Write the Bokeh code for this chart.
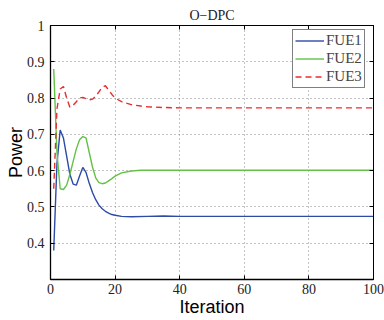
from bokeh.plotting import figure
from bokeh.models import LinearAxis, Range1d, Legend, LegendItem, FixedTicker
from bokeh.embed import file_html
from bokeh.resources import INLINE

# data
it1 = [1, 2, 3, 4, 5, 6, 7, 8, 9, 10, 11, 12, 13, 14, 15, 16, 17, 18, 19, 20, 22, 25, 30, 35, 40, 50, 60, 70, 80, 90, 100]
fue1 = [0.38, 0.62, 0.712, 0.69, 0.64, 0.59, 0.563, 0.56, 0.585, 0.609, 0.595, 0.565, 0.54, 0.52, 0.505, 0.495, 0.488,
        0.483, 0.479, 0.477, 0.474, 0.473, 0.474, 0.475, 0.474, 0.474, 0.474, 0.474, 0.474, 0.474, 0.474]
it2 = [1, 2, 3, 4, 5, 6, 7, 8, 9, 10, 11, 12, 13, 14, 15, 16, 17, 18, 19, 20, 22, 25, 28, 30, 40, 50, 60, 70, 80, 90, 100]
fue2 = [0.88, 0.65, 0.55, 0.548, 0.56, 0.59, 0.625, 0.66, 0.685, 0.694, 0.69, 0.65, 0.61, 0.58, 0.567, 0.564, 0.566,
        0.572, 0.578, 0.585, 0.594, 0.599, 0.601, 0.601, 0.601, 0.601, 0.601, 0.601, 0.601, 0.601, 0.601]
it3 = [1, 2, 3, 4, 5, 6, 7, 8, 9, 10, 11, 12, 13, 14, 15, 16, 17, 18, 19, 20, 22, 25, 28, 30, 35, 40, 50, 60, 70, 80, 90, 100]
fue3 = [0.55, 0.77, 0.825, 0.832, 0.8, 0.775, 0.78, 0.79, 0.8, 0.802, 0.798, 0.795, 0.797, 0.805, 0.817, 0.83, 0.834,
        0.822, 0.81, 0.8, 0.79, 0.782, 0.778, 0.776, 0.774, 0.773, 0.773, 0.773, 0.773, 0.773, 0.773, 0.773]
x_ticks = [0, 20, 40, 60, 80, 100]
y_ticks = [0.4, 0.5, 0.6, 0.7, 0.8, 0.9, 1.0]
y_labels = {0.4: "0.4", 0.5: "0.5", 0.6: "0.6", 0.7: "0.7", 0.8: "0.8", 0.9: "0.9", 1.0: "1"}
series_names = ["FUE1", "FUE2", "FUE3"]
chart_title = "O\u2212DPC"

SERIF = "Liberation Serif"
SANS = "Liberation Sans"

p = figure(width=384, height=320, output_backend="svg", toolbar_location=None,
           x_range=Range1d(0, 100), y_range=Range1d(0.3, 1.0), title=chart_title,
           min_border_left=50, min_border_right=11, min_border_top=25, min_border_bottom=41)
p.title.align = "center"
p.title.text_font = SERIF
p.title.text_font_size = "14px"
p.title.text_font_style = "normal"
p.title.text_color = "#222222"
p.title.standoff = 6
p.outline_line_color = "black"
p.outline_line_width = 1
p.background_fill_color = "white"
p.border_fill_color = "white"

for ax in (p.xaxis[0], p.yaxis[0]):
    ax.major_tick_in = 4
    ax.major_tick_out = 0
    ax.minor_tick_in = 0
    ax.minor_tick_out = 0
    ax.axis_line_color = "black"
    ax.axis_line_width = 1.3
    ax.major_label_text_font = SERIF
    ax.major_label_text_font_size = "14px"
    ax.major_label_text_color = "#222222"
    ax.axis_label_text_font = SANS
    ax.axis_label_text_font_size = "18px"
    ax.axis_label_text_font_style = "normal"
    ax.axis_label_text_color = "black"

p.xaxis[0].ticker = FixedTicker(ticks=x_ticks)
p.yaxis[0].ticker = FixedTicker(ticks=y_ticks)
p.yaxis[0].major_label_overrides = y_labels
p.xaxis[0].axis_label = "Iteration"
p.yaxis[0].axis_label = "Power"
p.xaxis[0].major_label_standoff = 4
p.yaxis[0].major_label_standoff = 6
p.xaxis[0].axis_label_standoff = 0
p.yaxis[0].axis_label_standoff = -2

for loc, tick in (("right", y_ticks), ("above", x_ticks)):
    a = LinearAxis(ticker=FixedTicker(ticks=tick),
                   major_label_overrides={t: "" for t in tick},
                   major_tick_in=4, major_tick_out=0, minor_tick_in=0, minor_tick_out=0,
                   axis_line_color="black", axis_line_width=1.0, major_label_standoff=0)
    p.add_layout(a, loc)

p.xgrid.ticker = FixedTicker(ticks=x_ticks)
p.ygrid.ticker = FixedTicker(ticks=y_ticks)
for g in (p.xgrid, p.ygrid):
    g.grid_line_color = "#888888"
    g.grid_line_dash = "1 3"
    g.grid_line_width = 1

r1 = p.line(it1, fue1, line_color="#2b4ba5", line_width=1.4)
r2 = p.line(it2, fue2, line_color="#63c146", line_width=1.4)
r3 = p.line(it3, fue3, line_color="#e62e2e", line_width=1.4, line_dash="6 4")

legend = Legend(items=[LegendItem(label=series_names[0], renderers=[r1]),
                       LegendItem(label=series_names[1], renderers=[r2]),
                       LegendItem(label=series_names[2], renderers=[r3])],
                location=(242, 191), padding=2, spacing=1, margin=0,
                label_text_font=SERIF, label_text_font_size="15px",
                label_height=17, glyph_height=17, glyph_width=29, label_standoff=2,
                border_line_color="black", border_line_width=1.2,
                background_fill_alpha=1.0)
p.add_layout(legend, "center")

open("out.html", "w").write(file_html(p, INLINE))
